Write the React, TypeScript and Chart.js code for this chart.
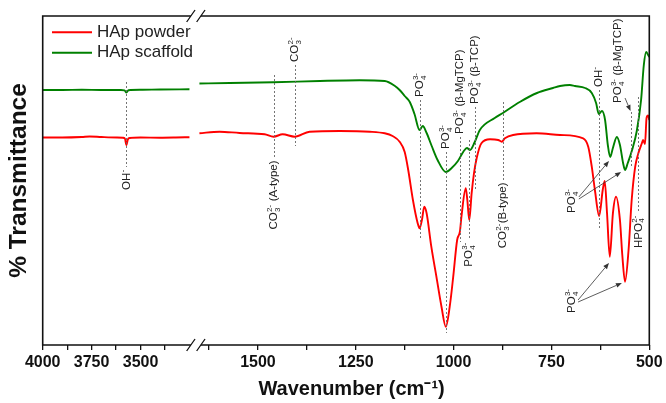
import React, { useEffect, useRef } from 'react';
import { Chart, registerables } from 'chart.js';

Chart.register(...registerables);

// ---------- axis definitions ----------
const leftAxisRange = [4000, 3200];
const rightAxisRange = [1650, 500];
const leftTicks = [4000, 3875, 3750, 3625, 3500, 3375];
const rightTicks = [1625, 1500, 1375, 1250, 1125, 1000, 875, 750, 625, 500];
const labelStep = 250;

// ---------- spectra (wavenumber, transmittance a.u.) ----------
const powderLeftWn = [4000, 3900, 3800, 3760, 3700, 3620, 3590, 3580, 3572, 3565, 3555, 3500, 3400, 3320, 3250];
const powderLeftT = [207.5, 207.5, 208, 208.5, 208, 207.5, 207.3, 206.5, 200, 205.5, 207, 207.5, 207.3, 207.5, 207.8];

const scaffoldLeftWn = [4000, 3900, 3800, 3700, 3600, 3582, 3572, 3562, 3500, 3400, 3250];
const scaffoldLeftT = [255, 255, 255.2, 255, 255, 254.7, 252.5, 254.8, 255.2, 255.5, 255.7];

const powderRightWn = [1650, 1598, 1547, 1483, 1460, 1437, 1406, 1368, 1291, 1214, 1176, 1156, 1138, 1125, 1116, 1104, 1092, 1087, 1081, 1075, 1069, 1057, 1044, 1031, 1020, 1010, 1001, 991, 984, 980, 969, 965, 960, 954, 948, 941, 929, 907, 886, 877, 869, 848, 788, 728, 669, 656, 647, 639, 628, 619, 614, 608, 601, 593, 585, 575, 569, 562, 553, 545, 536, 528, 519, 516, 511, 507, 503, 500];
const powderRightT = [211.7, 213.3, 212, 210.7, 208.3, 210.7, 208.3, 213.3, 214, 213.3, 211.7, 209, 203.3, 193, 175, 145, 122, 116.7, 125, 138.3, 131.7, 98.3, 68.3, 38.3, 18.3, 38.3, 68.3, 105, 113.3, 128.3, 156.7, 145, 125, 151.7, 171.7, 187, 201.7, 205.7, 205, 203.3, 206.7, 210, 211.7, 210, 206.7, 198.3, 178.3, 155, 129, 155, 164, 131.7, 88.3, 131.7, 148.3, 125, 90, 63.3, 95, 145, 178.3, 191.7, 201.7, 205, 201, 227, 229.5, 225];

const scaffoldRightWn = [1650, 1572, 1460, 1342, 1240, 1176, 1150, 1138, 1125, 1112, 1100, 1087, 1079, 1069, 1056, 1041, 1020, 1005, 989, 974, 966, 958, 946, 933, 895, 874, 831, 787, 746, 728, 703, 690, 664, 647, 636, 629, 621, 613, 606, 600, 593, 583, 575, 567, 562, 555, 544, 532, 521, 514, 508, 503, 500];
const scaffoldRightT = [261.5, 262, 262.7, 264, 264.7, 264, 259, 255, 249, 243, 231, 215, 219, 212, 199, 185, 173, 177, 184, 194, 197, 195, 203, 215, 227, 232, 243, 252, 257, 259, 260, 259, 257, 252, 242, 231, 234, 225, 200, 188, 197, 208, 200, 182, 175, 182, 195, 214, 245, 280, 293, 290, 288];

const seriesLabels = ['HAp powder', 'HAp scaffold'];
const seriesColors = ['#ff0000', '#008000'];

// ---------- band assignments (wavenumber, line span in transmittance units) ----------
type Parts = [string, string, string, string];
const markers: { axis: string; wn: number; from: number; to: number; side: string; parts?: Parts }[] = [
  { axis: 'xL', wn: 3572, from: 263, to: 178, side: 'below', parts: ['OH', '', '-', ''] },
  { axis: 'xR', wn: 1460, from: 270, to: 187, side: 'below', parts: ['CO', '3', '2-', ' (A-type)'] },
  { axis: 'xR', wn: 1406, from: 280, to: 199, side: 'above', parts: ['CO', '3', '2-', ''] },
  { axis: 'xR', wn: 1087, from: 245, to: 105, side: 'above', parts: ['PO', '4', '3-', ''] },
  { axis: 'xR', wn: 1020, from: 193, to: 12, side: 'above', parts: ['PO', '4', '3-', ''] },
  { axis: 'xR', wn: 984, from: 208, to: 103, side: 'above', parts: ['PO', '4', '3-', ' (β-MgTCP)'] },
  { axis: 'xR', wn: 946, from: 238, to: 155, side: 'above', parts: ['PO', '4', '3-', ' (β-TCP)'] },
  { axis: 'xR', wn: 960, from: 205, to: 105, side: 'below', parts: ['PO', '4', '3-', ''] },
  { axis: 'xR', wn: 875, from: 243, to: 165, side: 'below', parts: ['CO', '3', '2-', '(B-type)'] },
  { axis: 'xR', wn: 629, from: 255, to: 115, side: 'above', parts: ['OH', '', '-', ''] },
  { axis: 'xR', wn: 547, from: 233, to: 178, side: 'none' },
  { axis: 'xR', wn: 528, from: 248, to: 132, side: 'below', parts: ['HPO', '4', '2-', ''] },
];
const freeLabels: { wn: number; t: number; parts: Parts }[] = [
  { wn: 580, t: 242, parts: ['PO', '4', '3-', ' (β-MgTCP)'] },
  { wn: 698, t: 132, parts: ['PO', '4', '3-', ''] },
  { wn: 698, t: 32, parts: ['PO', '4', '3-', ''] },
];
const arrows: { from: [number, number]; to: [number, number] }[] = [
  { from: [562, 247], to: [548, 234] },
  { from: [680, 148], to: [603, 184] },
  { from: [680, 146], to: [572, 173] },
  { from: [682, 45], to: [603, 82] },
  { from: [682, 43], to: [570, 62] },
];

const FONT = '"Liberation Sans", Arial, sans-serif';

function zip(xs: number[], ys: number[]) {
  return xs.map((x, i) => ({ x, y: ys[i] }));
}

function drawRich(ctx: CanvasRenderingContext2D, x: number, y: number, parts: Parts, align: string) {
  const [base, sub, sup, tail] = parts;
  const big = `11.5px ${FONT}`;
  const small = `8px ${FONT}`;
  ctx.save();
  ctx.translate(x, y);
  ctx.rotate(-Math.PI / 2);
  ctx.font = big;
  const wb = ctx.measureText(base).width;
  const wt = tail ? ctx.measureText(tail).width : 0;
  ctx.font = small;
  const ws = Math.max(sub ? ctx.measureText(sub).width : 0, sup ? ctx.measureText(sup).width : 0);
  const total = wb + ws + wt;
  const sx = align === 'left' ? 0 : -total;
  ctx.textBaseline = 'middle';
  ctx.textAlign = 'left';
  ctx.fillStyle = '#222';
  ctx.font = big;
  ctx.fillText(base, sx, 0);
  ctx.font = small;
  if (sub) ctx.fillText(sub, sx + wb + 0.3, 3.8);
  if (sup) ctx.fillText(sup, sx + wb + 0.3, -4);
  if (tail) {
    ctx.font = big;
    ctx.fillText(tail, sx + wb + ws + 0.6, 0);
  }
  ctx.restore();
}

function drawArrow(ctx: CanvasRenderingContext2D, x1: number, y1: number, x2: number, y2: number) {
  const a = Math.atan2(y2 - y1, x2 - x1);
  const len = 6;
  const w = 2.4;
  const c = Math.cos(a);
  const s = Math.sin(a);
  ctx.beginPath();
  ctx.moveTo(x1, y1);
  ctx.lineTo(x2 - len * c, y2 - len * s);
  ctx.stroke();
  ctx.beginPath();
  ctx.moveTo(x2, y2);
  ctx.lineTo(x2 - len * c + w * s, y2 - len * s - w * c);
  ctx.lineTo(x2 - len * c - w * s, y2 - len * s + w * c);
  ctx.closePath();
  ctx.fill();
}

const overlayPlugin = {
  id: 'overlay',
  afterDatasetsDraw(chart: any) {
    const ctx: CanvasRenderingContext2D = chart.ctx;
    const xL = chart.scales.xL;
    const xR = chart.scales.xR;
    const y = chart.scales.y;
    const px = (axis: string, wn: number) => (axis === 'xL' ? xL : xR).getPixelForValue(wn);

    ctx.save();
    ctx.strokeStyle = '#666';
    ctx.lineWidth = 0.9;
    ctx.setLineDash([2, 2]);
    markers.forEach((m) => {
      const x = Math.round(px(m.axis, m.wn)) + 0.5;
      ctx.beginPath();
      ctx.moveTo(x, y.getPixelForValue(m.from));
      ctx.lineTo(x, y.getPixelForValue(m.to));
      ctx.stroke();
    });
    ctx.restore();

    markers.forEach((m) => {
      if (!m.parts) return;
      const x = px(m.axis, m.wn);
      if (m.side === 'above') drawRich(ctx, x, y.getPixelForValue(m.from) - 3, m.parts, 'left');
      else drawRich(ctx, x, y.getPixelForValue(m.to) + 3, m.parts, 'right');
    });
    freeLabels.forEach((f) => {
      drawRich(ctx, xR.getPixelForValue(f.wn), y.getPixelForValue(f.t), f.parts, 'left');
    });

    ctx.save();
    ctx.strokeStyle = '#333';
    ctx.fillStyle = '#333';
    ctx.lineWidth = 0.8;
    arrows.forEach((a) => {
      drawArrow(
        ctx,
        xR.getPixelForValue(a.from[0]),
        y.getPixelForValue(a.from[1]),
        xR.getPixelForValue(a.to[0]),
        y.getPixelForValue(a.to[1])
      );
    });
    ctx.restore();
  },
  afterDraw(chart: any) {
    const ctx: CanvasRenderingContext2D = chart.ctx;
    const { left, right, top, bottom } = chart.chartArea;
    const brk = chart.scales.xL.right;
    const c1 = brk - 8.4;
    const c2 = brk + 1.6;
    ctx.save();
    ctx.strokeStyle = '#111';
    ctx.lineWidth = 1.6;
    ctx.beginPath();
    ctx.moveTo(left, top - 0.8);
    ctx.lineTo(left, bottom + 0.8);
    ctx.moveTo(right, top - 0.8);
    ctx.lineTo(right, bottom + 0.8);
    [top, bottom].forEach((yy) => {
      ctx.moveTo(left, yy);
      ctx.lineTo(c1, yy);
      ctx.moveTo(c2, yy);
      ctx.lineTo(right, yy);
    });
    ctx.stroke();
    ctx.lineWidth = 1.3;
    ctx.beginPath();
    [top, bottom].forEach((yy) => {
      [c1, c2].forEach((c) => {
        ctx.moveTo(c - 4.2, yy + 6);
        ctx.lineTo(c + 4.2, yy - 6);
      });
    });
    ctx.stroke();

    // legend
    const items = [chart.data.datasets[0], chart.data.datasets[2]];
    ctx.font = `17px ${FONT}`;
    ctx.textBaseline = 'middle';
    ctx.textAlign = 'left';
    items.forEach((ds: any, i: number) => {
      const yy = top + 16.3 + i * 20.4;
      ctx.strokeStyle = ds.borderColor;
      ctx.lineWidth = 2;
      ctx.beginPath();
      ctx.moveTo(left + 9.3, yy);
      ctx.lineTo(left + 49.3, yy);
      ctx.stroke();
      ctx.fillStyle = '#222';
      ctx.fillText(ds.label, left + 54.3, yy);
    });
    ctx.restore();
  },
};

export default function App() {
  const ref = useRef<HTMLCanvasElement>(null);
  useEffect(() => {
    if (!ref.current) return;
    const line = (label: string, color: string, axis: string, data: any[]) => ({
      label,
      data,
      xAxisID: axis,
      yAxisID: 'y',
      borderColor: color,
      backgroundColor: color,
      borderWidth: 1.9,
      pointRadius: 0,
      fill: false,
      cubicInterpolationMode: 'monotone' as const,
    });
    const xAxisCommon = {
      type: 'linear' as const,
      position: 'bottom' as const,
      reverse: true,
      stack: 'wn',
      border: { display: false },
      grid: { display: true, drawOnChartArea: false, drawTicks: true, tickLength: 5, color: '#111', lineWidth: 1.3 },
      ticks: {
        autoSkip: false,
        maxRotation: 0,
        padding: 3,
        color: '#111',
        font: { family: FONT, size: 16, weight: 'bold' as const },
        callback: (v: any) => (Number(v) % labelStep === 0 ? String(v) : ''),
      },
      afterFit: (s: any) => {
        s.height = 30;
      },
    };
    const chart = new Chart(ref.current, {
      type: 'line',
      data: {
        datasets: [
          line(seriesLabels[0], seriesColors[0], 'xL', zip(powderLeftWn, powderLeftT)),
          line(seriesLabels[0], seriesColors[0], 'xR', zip(powderRightWn, powderRightT)),
          line(seriesLabels[1], seriesColors[1], 'xL', zip(scaffoldLeftWn, scaffoldLeftT)),
          line(seriesLabels[1], seriesColors[1], 'xR', zip(scaffoldRightWn, scaffoldRightT)),
        ],
      },
      options: {
        responsive: false,
        animation: false,
        events: [],
        layout: { padding: { left: 0, right: 16.7, top: 16, bottom: 0 } },
        scales: {
          xL: {
            ...xAxisCommon,
            min: leftAxisRange[1],
            max: leftAxisRange[0],
            stackWeight: leftAxisRange[0] - leftAxisRange[1],
            afterBuildTicks: (s: any) => {
              s.ticks = leftTicks.map((v) => ({ value: v }));
            },
          },
          xR: {
            ...xAxisCommon,
            min: rightAxisRange[1],
            max: rightAxisRange[0],
            stackWeight: (rightAxisRange[0] - rightAxisRange[1]) * 2,
            afterBuildTicks: (s: any) => {
              s.ticks = rightTicks.map((v) => ({ value: v }));
            },
          },
          y: {
            type: 'linear',
            position: 'left',
            min: 0,
            max: 329,
            border: { display: false },
            grid: { display: false },
            ticks: { display: false },
            title: {
              display: true,
              text: '% Transmittance',
              color: '#111',
              font: { family: FONT, size: 24.5, weight: 'bold' },
              padding: { top: 5, bottom: 0 },
            },
            afterFit: (s: any) => {
              s.width = 42.7;
            },
          },
        } as any,
        plugins: {
          legend: { display: false },
          tooltip: { enabled: false },
          title: {
            display: true,
            text: '  Wavenumber (cm⁻¹)',
            position: 'bottom',
            fullSize: false,
            color: '#111',
            font: { family: FONT, size: 20, weight: 'bold' },
            padding: { top: 2, bottom: 2 },
          },
        },
      },
      plugins: [overlayPlugin],
    });
    return () => chart.destroy();
  }, []);
  return (
    <div style={{ position: 'fixed', left: 0, top: 0, width: 666, height: 403, background: '#fff' }}>
      <canvas ref={ref} width={666} height={403} />
    </div>
  );
}
